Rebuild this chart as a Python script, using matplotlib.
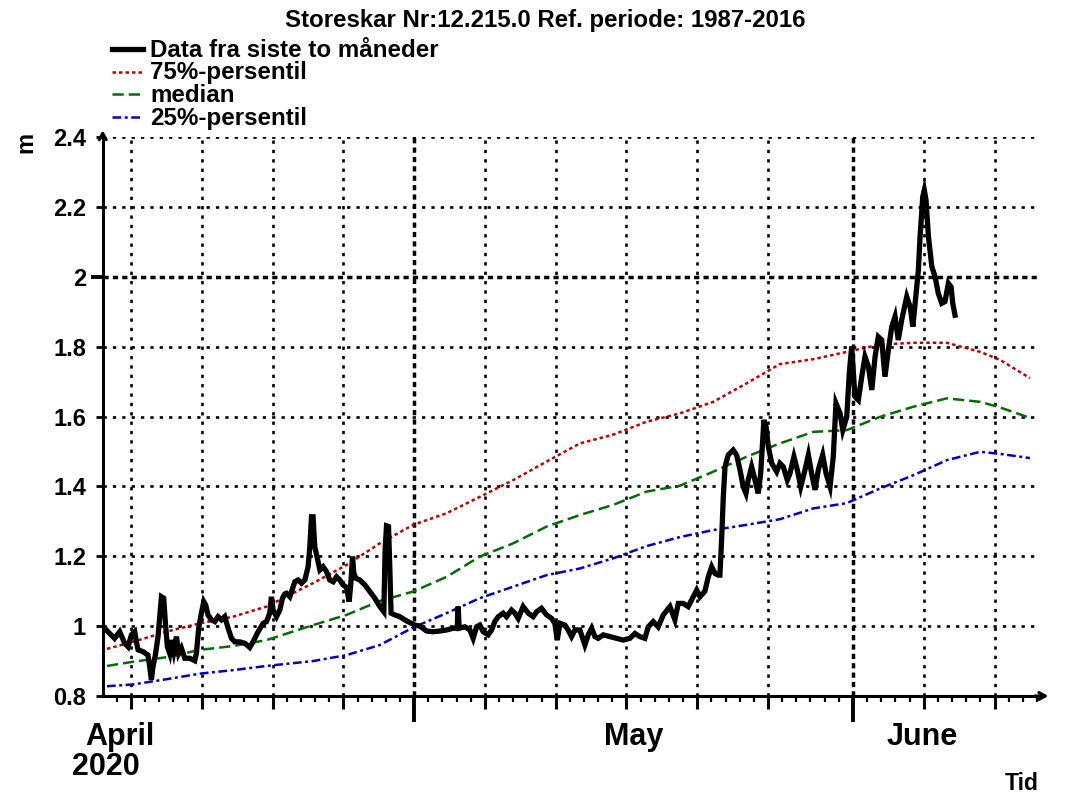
import numpy as np
import matplotlib
matplotlib.use("Agg")
import matplotlib.pyplot as plt
from matplotlib.lines import Line2D
from matplotlib import transforms

plt.rcParams['font.family'] = ['Liberation Sans', 'DejaVu Sans']
plt.rcParams['font.weight'] = 'bold'

# time axis: days counted from 2020-04-01 00:00
obs_day = [
    8.14, 8.49, 8.84, 9.20, 9.55, 9.79, 10.03, 10.26, 10.38, 10.50, 10.85, 11.20,
    11.32, 11.44, 11.55, 11.72, 11.91, 12.03, 12.15, 12.31, 12.43, 12.57, 12.73,
    12.85, 13.02, 13.21, 13.37, 13.56, 13.80, 14.15, 14.50, 14.62, 14.78, 14.97,
    15.14, 15.28, 15.44, 15.68, 15.92, 16.15, 16.39, 16.62, 16.86, 17.10, 17.33,
    17.68, 18.04, 18.39, 18.62, 18.98, 19.33, 19.57, 19.80, 19.92, 20.04, 20.28,
    20.51, 20.70, 20.86, 20.98, 21.22, 21.57, 21.80, 22.04, 22.28, 22.51, 22.63,
    22.75, 22.86, 22.98, 23.14, 23.34, 23.57, 23.81, 24.04, 24.28, 24.52, 24.75,
    24.98, 25.22, 25.41, 25.53, 25.65, 25.74, 25.88, 26.16, 26.52, 26.87, 27.22,
    27.58, 27.86, 27.95, 28.05, 28.19, 28.28, 28.37, 28.64, 28.99, 29.34, 29.70,
    30.05, 30.40, 30.88, 31.34, 31.82, 32.29, 32.76, 33.04, 33.11, 33.18, 33.58,
    33.94, 34.17, 34.41, 34.64, 34.88, 35.23, 35.47, 35.70, 35.94, 36.29, 36.53,
    36.88, 37.12, 37.35, 37.70, 38.06, 38.41, 38.65, 39.00, 39.36, 39.71, 39.94,
    40.11, 40.30, 40.65, 40.88, 41.12, 41.36, 41.71, 42.06, 42.30, 42.54, 42.77,
    43.00, 43.36, 43.83, 44.30, 44.77, 45.24, 45.60, 45.95, 46.30, 46.54, 46.89,
    47.24, 47.60, 48.07, 48.42, 48.66, 49.01, 49.36, 49.72, 49.96, 50.19, 50.54,
    50.78, 51.02, 51.25, 51.48, 51.60, 51.72, 51.84, 51.96, 52.19, 52.54, 52.78,
    53.02, 53.25, 53.44, 53.60, 53.84, 54.08, 54.31, 54.48, 54.62, 54.71, 54.86,
    55.02, 55.26, 55.61, 55.84, 56.08, 56.36, 56.55, 56.83, 57.07, 57.31, 57.61,
    57.85, 58.08, 58.32, 58.55, 58.86, 59.10, 59.38, 59.61, 59.80, 60.09, 60.28,
    60.56, 60.74, 60.91, 61.02, 61.14, 61.38, 61.62, 61.85, 62.09, 62.33, 62.56,
    62.79, 63.03, 63.26, 63.50, 63.74, 63.97, 64.20, 64.44, 64.80, 65.04, 65.23,
    65.39, 65.62, 65.74, 65.93, 66.04, 66.16, 66.33, 66.57, 66.80, 67.03, 67.27,
    67.50, 67.74, 67.93, 68.05, 68.21,
]
obs_level = [
    0.994, 0.979, 0.965, 0.984, 0.951, 0.941, 0.975, 0.984, 0.955, 0.932, 0.927, 0.917,
    0.884, 0.846, 0.884, 0.917, 0.970, 1.027, 1.084, 1.080, 1.008, 0.941, 0.922,
    0.960, 0.927, 0.970, 0.922, 0.937, 0.908, 0.908, 0.901, 0.922, 0.994, 1.037,
    1.070, 1.060, 1.032, 1.018, 1.013, 1.027, 1.018, 1.027, 0.994, 0.965, 0.955,
    0.955, 0.951, 0.939, 0.955, 0.984, 1.008, 1.013, 1.037, 1.084, 1.046, 1.027,
    1.046, 1.080, 1.092, 1.094, 1.084, 1.127, 1.132, 1.123, 1.132, 1.170, 1.227,
    1.313, 1.313, 1.227, 1.199, 1.161, 1.170, 1.156, 1.132, 1.127, 1.141, 1.132,
    1.118, 1.111, 1.070, 1.123, 1.199, 1.151, 1.137, 1.132, 1.118, 1.099, 1.080,
    1.056, 1.041, 1.218, 1.287, 1.285, 1.170, 1.037, 1.032, 1.027, 1.018, 1.010,
    1.003, 1.000, 0.986, 0.984, 0.986, 0.989, 0.994, 0.994, 1.056, 0.994, 0.998,
    0.989, 0.965, 0.998, 1.003, 0.984, 0.975, 0.989, 1.013, 1.027, 1.037, 1.027,
    1.046, 1.037, 1.022, 1.056, 1.037, 1.027, 1.041, 1.051, 1.032, 1.022, 1.008,
    0.960, 1.008, 1.003, 0.989, 0.970, 0.989, 0.989, 0.946, 0.975, 0.994, 0.970,
    0.965, 0.975, 0.970, 0.965, 0.960, 0.965, 0.979, 0.970, 0.965, 0.998, 1.013,
    0.998, 1.032, 1.056, 1.018, 1.065, 1.065, 1.056, 1.084, 1.103, 1.084, 1.100,
    1.141, 1.170, 1.151, 1.146, 1.146, 1.246, 1.370, 1.456, 1.490, 1.504, 1.490,
    1.447, 1.399, 1.380, 1.418, 1.456, 1.418, 1.380, 1.437, 1.533, 1.590, 1.571,
    1.514, 1.466, 1.442, 1.466, 1.456, 1.418, 1.437, 1.485, 1.447, 1.399, 1.447,
    1.490, 1.437, 1.390, 1.447, 1.490, 1.437, 1.399, 1.485, 1.638, 1.609, 1.561,
    1.599, 1.724, 1.800, 1.733, 1.657, 1.647, 1.714, 1.771, 1.743, 1.676, 1.771,
    1.828, 1.819, 1.714, 1.790, 1.857, 1.886, 1.819, 1.876, 1.943, 1.914, 1.857,
    1.924, 2.019, 2.115, 2.229, 2.248, 2.220, 2.115, 2.029, 2.000, 1.952, 1.924,
    1.929, 1.981, 1.971, 1.924, 1.890,
]

ref_day = [8.3, 10.14, 12.5, 14.86, 17.21, 19.57, 22.86, 25.22, 27.58, 29.93,
           32.29, 34.64, 37.0, 39.36, 41.71, 44.06, 46.42, 48.78, 51.13, 53.49,
           55.84, 58.2, 60.56, 62.91, 65.27, 67.63, 69.98, 71.39, 73.5]
p75 = [0.935, 0.955, 0.984, 1.008, 1.027, 1.056, 1.123, 1.175, 1.237, 1.290,
       1.323, 1.370, 1.418, 1.471, 1.523, 1.548, 1.585, 1.609, 1.642, 1.695,
       1.750, 1.764, 1.785, 1.806, 1.811, 1.811, 1.785, 1.762, 1.710]
p50 = [0.886, 0.898, 0.911, 0.932, 0.943, 0.960, 1.003, 1.032, 1.072, 1.099,
       1.141, 1.199, 1.237, 1.285, 1.318, 1.347, 1.385, 1.402, 1.442, 1.485,
       1.523, 1.556, 1.561, 1.599, 1.628, 1.652, 1.642, 1.626, 1.596]
p25 = [0.828, 0.833, 0.848, 0.864, 0.874, 0.886, 0.900, 0.917, 0.946, 0.996,
       1.037, 1.080, 1.113, 1.146, 1.165, 1.194, 1.229, 1.255, 1.275, 1.290,
       1.306, 1.337, 1.352, 1.394, 1.432, 1.475, 1.499, 1.493, 1.481]

y_ticks = [0.8, 1.0, 1.2, 1.4, 1.6, 1.8, 2.0, 2.2, 2.4]
grid_days = [10, 15, 20, 25, 30, 35, 40, 45, 50, 55, 61, 66, 71]
month_starts = [30, 61]
month_names = ["April", "May", "June"]
month_label_day = [9.24, 45.49, 65.92]

title = "Storeskar Nr:12.215.0 Ref. periode: 1987-2016"
legend_labels = ["Data fra siste to måneder", "75%-persentil", "median", "25%-persentil"]

RED = '#c00000'
GREEN = '#006e00'
BLUE = '#0000c8'

fig = plt.figure(figsize=(10.67, 8), dpi=100)
ax = fig.add_axes([0.09625, 0.13, 0.87563, 0.69875])
ax.set_xlim(8, 74)
ax.set_ylim(0.8, 2.4)

# dotted grid
for d in grid_days:
    heavy = d in month_starts
    ax.axvline(d, color='black', lw=2.5 if heavy else 1.9,
               ls=(0, (1.5, 1.2)) if heavy else (0, (1.25, 2.3)), zorder=1)
for y in y_ticks[1:]:
    heavy = y == 2.0
    ax.axhline(y, color='black', lw=2.5 if heavy else 1.9,
               ls=(0, (1.5, 1.2)) if heavy else (0, (1.25, 2.3)), zorder=1)

ax.plot(ref_day, p75, color=RED, lw=1.8, ls=(0, (1.4, 1.2)), zorder=2)
ax.plot(ref_day, p50, color=GREEN, lw=1.8, ls=(0, (4.5, 2.0)), zorder=2)
ax.plot(ref_day, p25, color=BLUE, lw=1.8, ls=(0, (3.5, 1.4, 1.2, 1.4)), zorder=2)
ax.plot(obs_day, obs_level, color='black', lw=3.8, solid_joinstyle='miter', zorder=3)

for s in ['top', 'right']:
    ax.spines[s].set_visible(False)
for s in ['left', 'bottom']:
    ax.spines[s].set_linewidth(2.2)

ax.set_xticks(grid_days)
ax.set_xticks(np.arange(9, 75), minor=True)
ax.set_xticklabels([])
ax.tick_params(axis='x', which='major', direction='out', length=9, width=2.2)
ax.tick_params(axis='x', which='minor', direction='out', length=4.5, width=1.6)
for tick, d in zip(ax.xaxis.get_major_ticks(), grid_days):
    if d in month_starts:
        tick.tick1line.set_markersize(19)
        tick.tick1line.set_markeredgewidth(2.8)

ax.set_yticks(y_ticks)
ax.set_yticklabels(['%g' % v for v in y_ticks])
ax.tick_params(axis='y', direction='out', length=5, width=2.0, pad=7, labelsize=17)
for tick, v in zip(ax.yaxis.get_major_ticks(), y_ticks):
    if v == 2.0:
        tick.tick1line.set_markersize(9)
        tick.tick1line.set_markeredgewidth(2.8)

# axis arrows
ax.annotate('', xy=(0, 1.017), xytext=(0, 0.995), xycoords='axes fraction',
            arrowprops=dict(arrowstyle='->,head_length=0.45,head_width=0.25', lw=2.2, color='black'),
            annotation_clip=False)
ax.annotate('', xy=(1.015, 0), xytext=(0.995, 0), xycoords='axes fraction',
            arrowprops=dict(arrowstyle='->,head_length=0.45,head_width=0.25', lw=2.2, color='black'),
            annotation_clip=False)

# labels
fig.text(0.511, 0.966, title, ha='center', va='baseline', fontsize=17.3, fontweight='bold')
fig.text(0.0245, 0.8225, 'm', rotation=90, ha='center', va='center', fontsize=17, fontweight='bold')
fig.text(0.958, 0.0125, 'Tid', ha='center', va='baseline', fontsize=16.5, fontweight='bold')

blend = transforms.blended_transform_factory(ax.transData, fig.transFigure)
for name, d in zip(month_names, month_label_day):
    ax.text(d, 0.06875, name, transform=blend, ha='center', va='baseline',
            fontsize=22, fontweight='bold')
ax.text(8.25, 0.03125, '2020', transform=blend, ha='center', va='baseline',
        fontsize=22, fontweight='bold')

# legend drawn in figure pixels
leg_styles = [dict(color='black', lw=3.8, ls='-'),
              dict(color=RED, lw=1.8, ls=(0, (1.4, 1.2))),
              dict(color=GREEN, lw=1.8, ls=(0, (4.5, 2.0))),
              dict(color=BLUE, lw=1.8, ls=(0, (3.5, 1.4, 1.2, 1.4)))]
W, H = 1067.0, 800.0
for i, (lab, st) in enumerate(zip(legend_labels, leg_styles)):
    base = 56.7 + 22.8 * i
    yl = 1 - (base - 8) / H
    fig.add_artist(Line2D([112 / W, 143 / W], [yl, yl], transform=fig.transFigure, **st))
    fig.text(150 / W, 1 - base / H, lab, ha='left', va='baseline', fontsize=17.4, fontweight='bold')

fig.savefig('out.png', dpi=100, facecolor='white')
